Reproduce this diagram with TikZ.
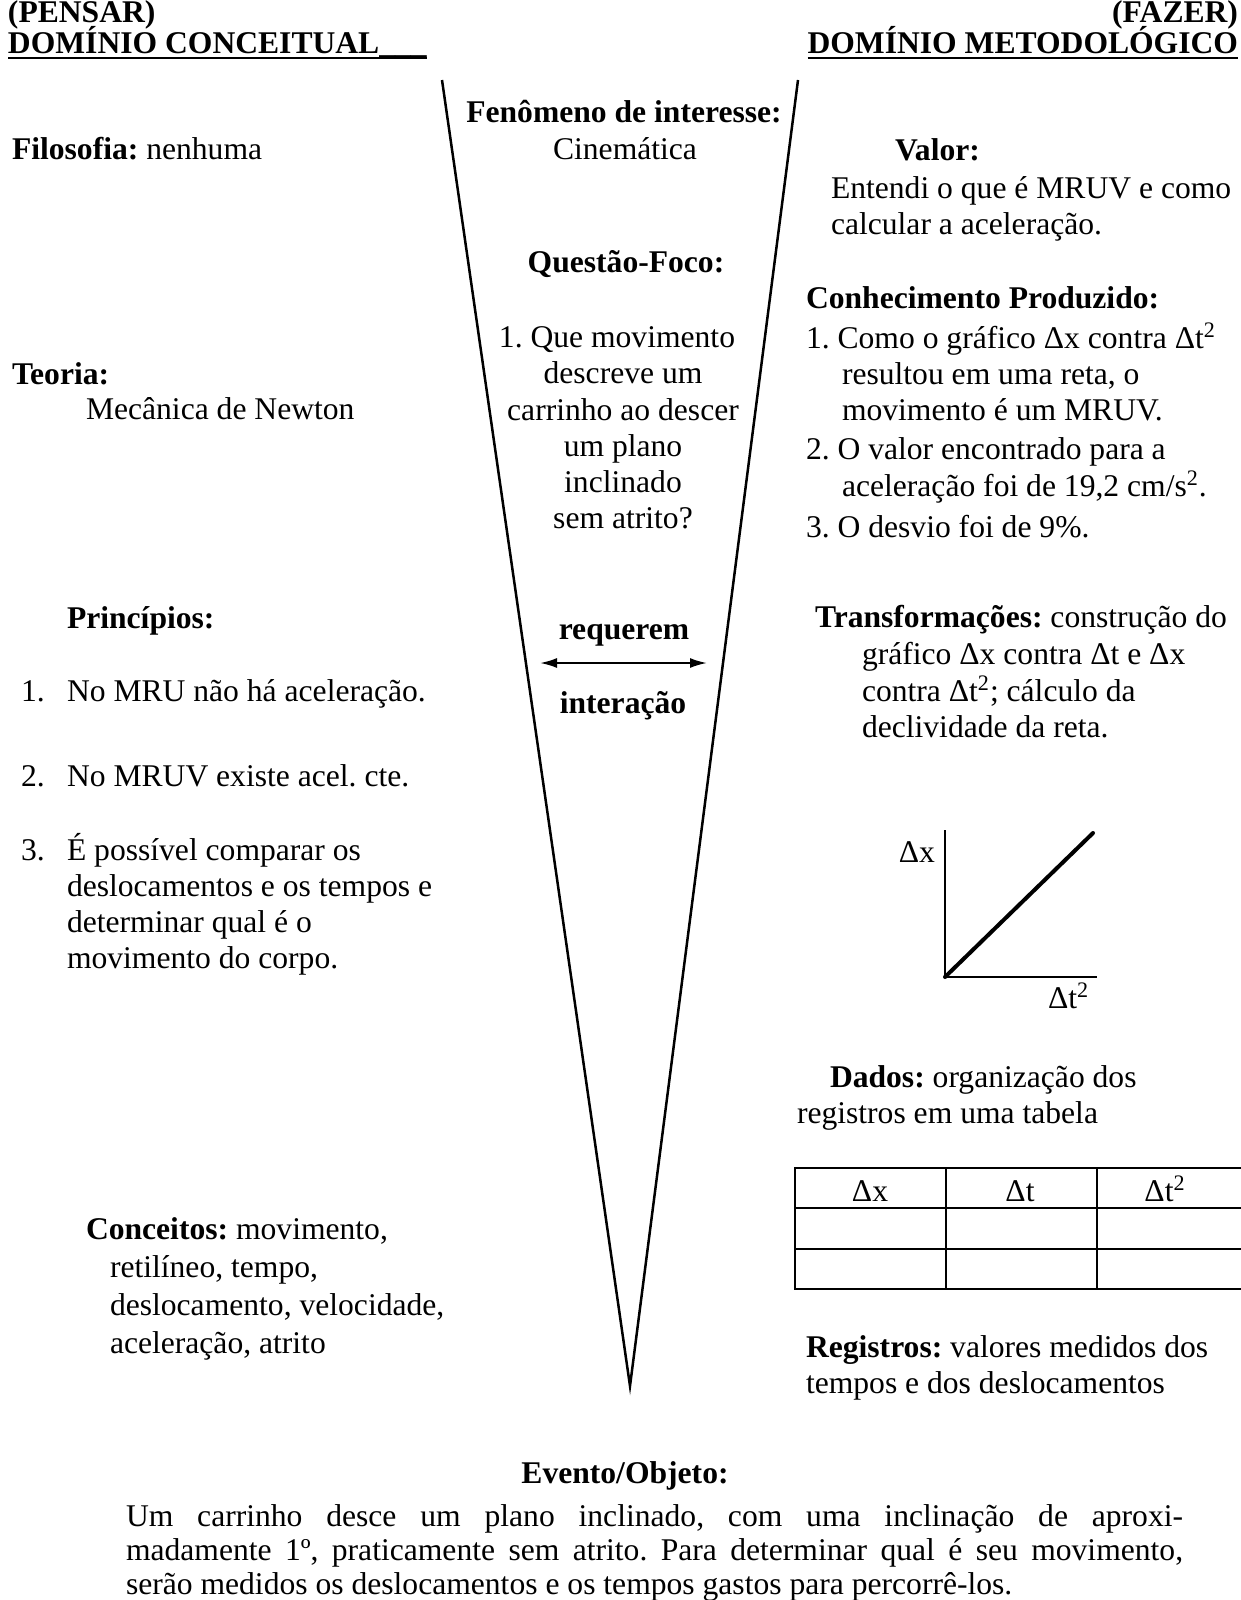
\documentclass[tikz,border=0pt]{standalone}
\usepackage{fontspec}
\setmainfont{Liberation Serif}
\usetikzlibrary{arrows.meta}
\newcommand{\fsz}{\fontsize{15.8}{18}\selectfont}
\tikzset{
  txt/.style={inner sep=0pt, outer sep=0pt, anchor=base west, font=\fsz},
  ctr/.style={inner sep=0pt, outer sep=0pt, anchor=base, font=\fsz},
  rgt/.style={inner sep=0pt, outer sep=0pt, anchor=base east, font=\fsz},
  vstroke/.style={line width=1.25pt, line join=miter},
  tstroke/.style={line width=1pt},
}
\begin{document}
\frenchspacing
\begin{tikzpicture}[x=0.5pt, y=-0.5pt]
\useasboundingbox (0,0) rectangle (1241,1600);
% header
\node[txt] (hpl) at (8,23) {\textbf{(PENSAR)}};
\node[txt] (hcl) at (8,54) {\textbf{DOMÍNIO CONCEITUAL\_\_\_}};
\node[rgt] (hpr) at (1238,23) {\textbf{(FAZER)}};
\node[rgt] (hcr) at (1238,54) {\textbf{DOMÍNIO METODOLÓGICO}};
\draw[tstroke] ([yshift=-1.8pt]hcl.base west) -- ([yshift=-1.8pt]hcl.base east);
\draw[tstroke] ([yshift=-1.8pt]hcr.base west) -- ([yshift=-1.8pt]hcr.base east);
% V
\coordinate (vl) at (442,80);
\coordinate (vr) at (798,80);
\coordinate (vb) at (630,1386);
\draw[vstroke] (vl) -- (vb) -- (vr);
% center column
\node[ctr] (fen) at (624,123) {\textbf{Fenômeno de interesse:}};
\node[ctr] (cin) at (625,160) {Cinemática};
\node[ctr] (qf) at (626,272) {\textbf{Questão-Foco:}};
\node[ctr] (q1) at (617,347) {1. Que movimento};
\node[ctr] (q2) at (623,383) {descreve um};
\node[ctr] (q3) at (623,420) {carrinho ao descer};
\node[ctr] (q4) at (623,456) {um plano};
\node[ctr] (q5) at (623,492) {inclinado};
\node[ctr] (q6) at (623,528) {sem atrito?};
\node[ctr] (req) at (624,639) {\textbf{requerem}};
\node[ctr] (int) at (623,713) {\textbf{interação}};
\coordinate (al) at (540,663);
\coordinate (ar) at (707,663);
\draw[line width=1pt, {Latex[length=8.5pt,width=5pt]}-{Latex[length=8.5pt,width=5pt]}] (al) -- (ar);
% left column
\node[txt] (fil) at (12,160) {\textbf{Filosofia:} nenhuma};
\node[txt] (teo) at (12,384) {\textbf{Teoria:}};
\node[txt] (mec) at (86,419) {Mecânica de Newton};
\node[txt] (pri) at (67,628) {\textbf{Princípios:}};
\node[txt] (n1) at (21,701) {1.};
\node[txt] (p1) at (67,701) {No MRU não há aceleração.};
\node[txt] (n2) at (21,786) {2.};
\node[txt] (p2) at (67,786) {No MRUV existe acel. cte.};
\node[txt] (n3) at (21,860) {3.};
\node[txt] (p3a) at (67,860) {É possível comparar os};
\node[txt] (p3b) at (67,896) {deslocamentos e os tempos e};
\node[txt] (p3c) at (67,932) {determinar qual é o};
\node[txt] (p3d) at (67,968) {movimento do corpo.};
\node[txt] (con1) at (86,1239) {\textbf{Conceitos:} movimento,};
\node[txt] (con2) at (110,1277) {retilíneo, tempo,};
\node[txt] (con3) at (110,1315) {deslocamento, velocidade,};
\node[txt] (con4) at (110,1353) {aceleração, atrito};
% right column
\node[txt] (val) at (895,161) {\textbf{Valor:}};
\node[txt] (val1) at (831,198) {Entendi o que é MRUV e como};
\node[txt] (val2) at (831,234) {calcular a aceleração.};
\node[txt] (cp) at (806,308) {\textbf{Conhecimento Produzido:}};
\node[txt] (cp1) at (806,348) {1. Como o gráfico Δx contra Δt\textsuperscript{2}};
\node[txt] (cp1b) at (842,384) {resultou em uma reta, o};
\node[txt] (cp1c) at (842,420) {movimento é um MRUV.};
\node[txt] (cp2) at (806,459) {2. O valor encontrado para a};
\node[txt] (cp2b) at (842,496) {aceleração foi de 19,2 cm/s\textsuperscript{2}.};
\node[txt] (cp3) at (806,537) {3. O desvio foi de 9\%.};
\node[txt] (tr) at (815,627) {\textbf{Transformações:} construção do};
\node[txt] (tr1) at (862,664) {gráfico Δx contra Δt e Δx};
\node[txt] (tr2) at (862,701) {contra Δt\textsuperscript{2}; cálculo da};
\node[txt] (tr3) at (862,737) {declividade da reta.};
% graph
\coordinate (go) at (945,977);
\coordinate (gy) at (945,830);
\coordinate (gx) at (1097,977);
\coordinate (gd) at (1093,833);
\draw[line width=1pt] (gy) -- (go) -- (gx);
\draw[line width=2pt, line cap=round] (go) -- (gd);
\node[rgt] (gxl) at (935,862) {Δx};
\node[txt] (gtl) at (1048,1008) {Δt\textsuperscript{2}};
% data
\node[txt] (dad) at (830,1087) {\textbf{Dados:} organização dos};
\node[txt] (dad2) at (797,1123) {registros em uma tabela};
% table
\draw[tstroke] (1241,1168) -- (795,1168) -- (795,1289) -- (1241,1289);
\draw[tstroke] (795,1208) -- (1241,1208);
\draw[tstroke] (795,1249) -- (1241,1249);
\draw[tstroke] (946,1168) -- (946,1289);
\draw[tstroke] (1097,1168) -- (1097,1289);
\node[ctr] (th1) at (870,1201) {Δx};
\node[ctr] (th2) at (1020,1201) {Δt};
\node[ctr] (th3) at (1165,1201) {Δt\textsuperscript{2}};
% registros
\node[txt] (reg) at (806,1357) {\textbf{Registros:} valores medidos dos};
\node[txt] (reg2) at (806,1393) {tempos e dos deslocamentos};
% evento
\node[ctr] (ev) at (625,1483) {\textbf{Evento/Objeto:}};
\node[txt] (ev1) at (126,1526) {\makebox[528.5pt][s]{Um carrinho desce um plano inclinado, com uma inclinação de aproxi-}};
\node[txt] (ev2) at (126,1560) {\makebox[528.5pt][s]{madamente 1º, praticamente sem atrito. Para determinar qual é seu movimento,}};
\node[txt] (ev3) at (126,1594) {serão medidos os deslocamentos e os tempos gastos para percorrê-los.};
\end{tikzpicture}
\end{document}
